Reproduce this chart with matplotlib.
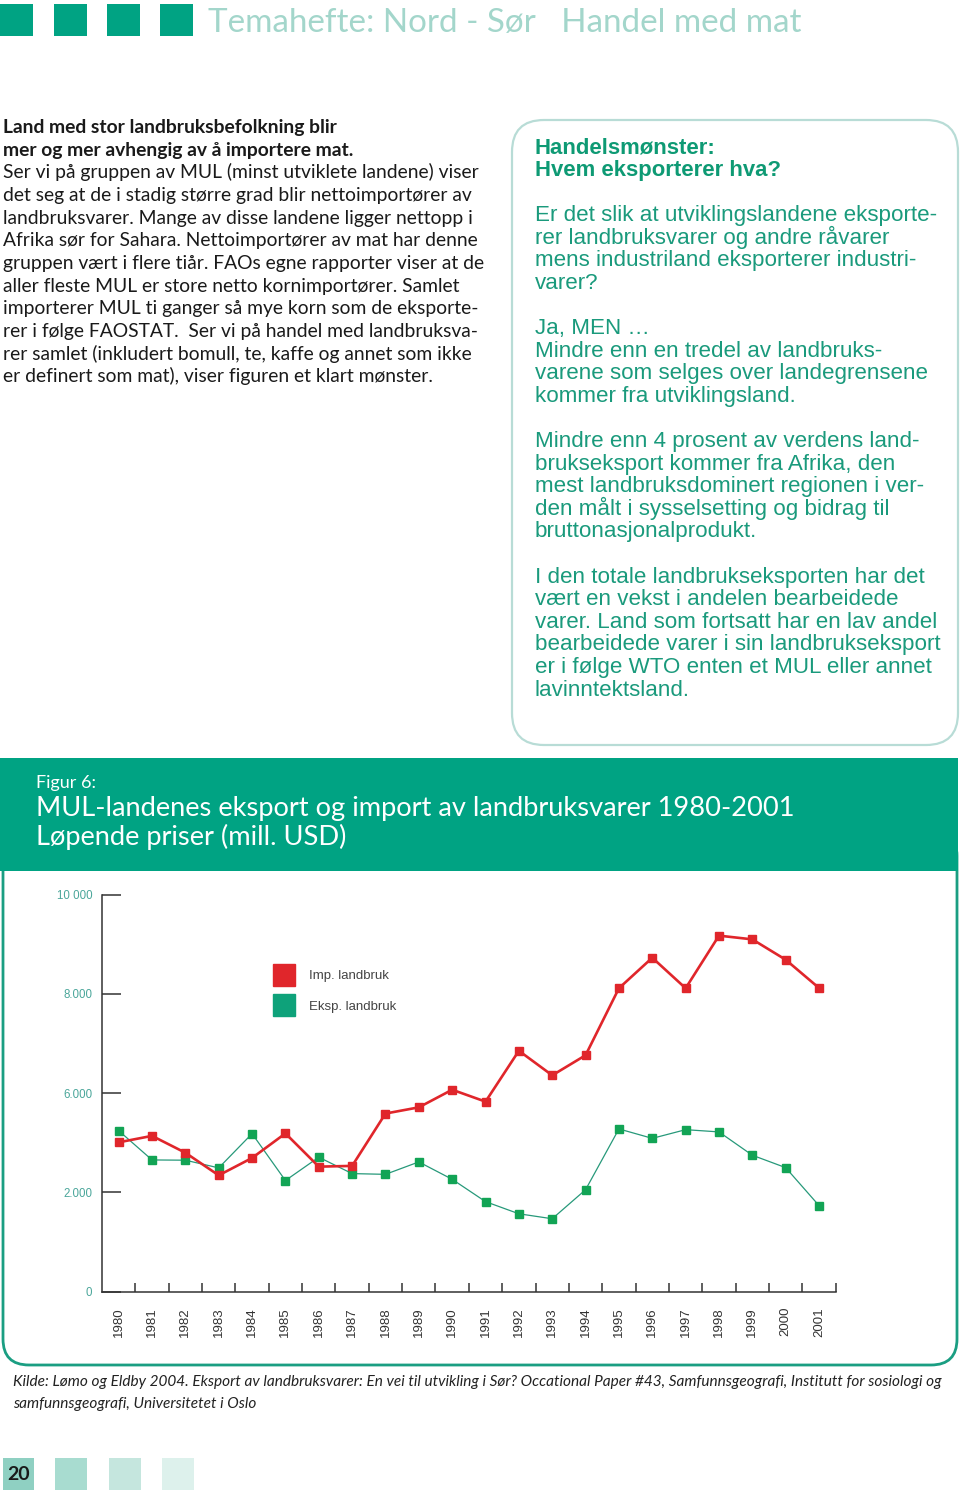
import matplotlib
matplotlib.use("Agg")
import matplotlib.pyplot as plt
from matplotlib.patches import Rectangle, FancyBboxPatch
from matplotlib.lines import Line2D

# ---------------- data ----------------
years = list(range(1980, 2002))
imp_landbruk = [3010, 3140, 2800, 2345, 2695, 3190, 2520, 2535, 3590, 3715, 4070,
                3830, 4855, 4360, 4765, 6115, 6730, 6115, 7175, 7100, 6690, 6120]
eksp_landbruk = [3245, 2655, 2650, 2495, 3185, 2240, 2710, 2380, 2365, 2615, 2265,
                 1815, 1570, 1470, 2055, 3280, 3090, 3265, 3220, 2750, 2500, 1735]
series_labels = ["Imp. landbruk", "Eksp. landbruk"]
ytick_pos = [0, 2000, 4000, 6000, 8000]
ytick_labels = ["0", "2.000", "6.000", "8.000", "10 000"]

header_text = "Temahefte: Nord - Sør   Handel med mat"
left_lines_bold = ["Land med stor landbruksbefolkning blir",
                   "mer og mer avhengig av å importere mat."]
left_lines = ["Ser vi på gruppen av MUL (minst utviklete landene) viser",
              "det seg at de i stadig større grad blir nettoimportører av",
              "landbruksvarer. Mange av disse landene ligger nettopp i",
              "Afrika sør for Sahara. Nettoimportører av mat har denne",
              "gruppen vært i flere tiår. FAOs egne rapporter viser at de",
              "aller fleste MUL er store netto kornimportører. Samlet",
              "importerer MUL ti ganger så mye korn som de eksporte-",
              "rer i følge FAOSTAT.  Ser vi på handel med landbruksva-",
              "rer samlet (inkludert bomull, te, kaffe og annet som ikke",
              "er definert som mat), viser figuren et klart mønster."]
box_head = ["Handelsmønster:", "Hvem eksporterer hva?"]
box_lines = ["Er det slik at utviklingslandene eksporte-",
             "rer landbruksvarer og andre råvarer",
             "mens industriland eksporterer industri-",
             "varer?",
             "",
             "Ja, MEN …",
             "Mindre enn en tredel av landbruks-",
             "varene som selges over landegrensene",
             "kommer fra utviklingsland.",
             "",
             "Mindre enn 4 prosent av verdens land-",
             "brukseksport kommer fra Afrika, den",
             "mest landbruksdominert regionen i ver-",
             "den målt i sysselsetting og bidrag til",
             "bruttonasjonalprodukt.",
             "",
             "I den totale landbrukseksporten har det",
             "vært en vekst i andelen bearbeidede",
             "varer. Land som fortsatt har en lav andel",
             "bearbeidede varer i sin landbrukseksport",
             "er i følge WTO enten et MUL eller annet",
             "lavinntektsland."]
fig_label = "Figur 6:"
fig_title = ["MUL-landenes eksport og import av landbruksvarer 1980-2001",
             "Løpende priser (mill. USD)"]
source_lines = ["Kilde: Lømo og Eldby 2004. Eksport av landbruksvarer: En vei til utvikling i Sør? "
                "Occational Paper #43, Samfunnsgeografi, Institutt for sosiologi og",
                "samfunnsgeografi, Universitetet i Oslo"]
page_no = "20"

# ---------------- styles ----------------
TEAL = "#00a383"
LIGHT_TEAL_TXT = "#a3d6cb"
BOX_TXT = "#1a9a7c"
RED = "#e0262b"
GREEN_LINE = "#27997a"
GREEN_MK = "#12a455"

W, H = 960, 1494
fig = plt.figure(figsize=(W / 100, H / 100), dpi=100)
bg = fig.add_axes([0, 0, 1, 1])
bg.set_xlim(0, W)
bg.set_ylim(H, 0)
bg.axis("off")
renderer = fig.canvas.get_renderer()


def fit_size(s, target, **kw):
    t = bg.text(0, 0, s, fontsize=10, **kw)
    w = t.get_window_extent(renderer).width
    t.remove()
    return 10 * target / w


# ---------------- header ----------------
for x0 in [0, 54, 107, 160]:
    bg.add_patch(Rectangle((x0, 4), 33, 32, color=TEAL, lw=0))
hk = dict(family="Lato")
hs = fit_size(header_text, 594, **hk)
bg.text(208, 32, header_text, fontsize=hs, color=LIGHT_TEAL_TXT, va="baseline", **hk)

# ---------------- left column ----------------
lk = dict(family="Lato")
ls_ = fit_size(left_lines[0], 475, **lk)
for i, s in enumerate(left_lines_bold):
    bg.text(3, 133 + 22.67 * i, s, fontsize=ls_, color="#1a1a1a",
            fontweight="bold", va="baseline", **lk)
for i, s in enumerate(left_lines):
    bg.text(3, 133 + 22.67 * (i + 2), s, fontsize=ls_, color="#1a1a1a",
            va="baseline", **lk)

# ---------------- right box ----------------
bg.add_patch(FancyBboxPatch((512, 120), 446, 625,
                            boxstyle="round,pad=0,rounding_size=32",
                            fc="white", ec="#b8dcd6", lw=1.6))
rk = dict(family="Liberation Sans")
hsz = fit_size(box_head[1], 247, fontweight="bold", **rk)
for i, s in enumerate(box_head):
    bg.text(535, 153 + 22.6 * i, s, fontsize=hsz, color="#0e9a74",
            fontweight="bold", va="baseline", **rk)
bsz = fit_size(box_lines[19], 405, **rk)
for i, s in enumerate(box_lines):
    if s:
        bg.text(535, 221 + 22.6 * i, s, fontsize=bsz, color=BOX_TXT,
                va="baseline", **rk)

# ---------------- figure banner ----------------
bg.add_patch(Rectangle((0, 758), 958, 113, color=TEAL, lw=0))
bk = dict(family="Lato")
fsz = fit_size(fig_label, 60, **bk)
bg.text(36, 788, fig_label, fontsize=fsz, color="white", va="baseline", **bk)
tsz = fit_size(fig_title[0], 760, **bk)
for i, s in enumerate(fig_title):
    bg.text(36, 816 + 28.5 * i, s, fontsize=tsz, color="white", va="baseline", **bk)

# chart frame (open at top, rounded at bottom)
frame = FancyBboxPatch((3, 830), 954, 535,
                       boxstyle="round,pad=0,rounding_size=26",
                       fc="none", ec="#1a9e82", lw=2.0, zorder=0.5)
bg.add_patch(frame)
bg.add_patch(Rectangle((4.5, 760), 951, 110, color=TEAL, lw=0, zorder=1))

# ---------------- source ----------------
sk = dict(family="Lato", style="italic")
ssz = fit_size(source_lines[0], 929, **sk)
for i, s in enumerate(source_lines):
    bg.text(13, 1386 + 22 * i, s, fontsize=ssz, color="#222222", va="baseline", **sk)

# ---------------- footer ----------------
bg.add_patch(Rectangle((3, 1458), 31, 32, color="#8fd0c2", lw=0))
bg.text(18.5, 1475, page_no, fontsize=14, fontweight="bold", color="#1a1a1a",
        ha="center", va="center", family="Lato")
for x0, c in [(55, "#a8dcd0"), (109, "#c5e6de"), (162, "#ddf1ec")]:
    bg.add_patch(Rectangle((x0, 1458), 32, 32, color=c, lw=0))

# ---------------- chart ----------------
x0p, x1p = 102, 835.7
y0p, y1p = 1291.7, 894.7
ax = fig.add_axes([x0p / W, 1 - y0p / H, (x1p - x0p) / W, (y0p - y1p) / H])
ax.patch.set_alpha(0)
ax.set_xlim(1979.5, 2001.5)
ax.set_ylim(0, 8000)
for sp in ["top", "right"]:
    ax.spines[sp].set_visible(False)
for sp in ["left", "bottom"]:
    ax.spines[sp].set_color("#333333")
    ax.spines[sp].set_linewidth(1.1)

ax.plot(years, imp_landbruk, color=RED, lw=1.9, marker="s", ms=6,
        mfc=RED, mec=RED, clip_on=False, zorder=3)
ax.plot(years, eksp_landbruk, color=GREEN_LINE, lw=0.9, marker="s", ms=6,
        mfc=GREEN_MK, mec=GREEN_MK, clip_on=False, zorder=2)

ax.set_yticks(ytick_pos)
ax.set_yticklabels(ytick_labels)
ax.tick_params(axis="y", direction="in", length=13.5, width=1.1, color="#333333",
               labelcolor="#4aa69a", labelsize=8.3, pad=7)
for lab in ax.get_yticklabels():
    lab.set_family("Liberation Sans")

ax.set_xticks(years)
ax.set_xticklabels([str(y) for y in years], rotation=90, family="Liberation Sans")
ax.set_xticks([y + 0.5 for y in years], minor=True)
ax.tick_params(axis="x", which="major", length=0, pad=11, labelsize=9.5,
               labelcolor="#333333")
ax.tick_params(axis="x", which="minor", direction="in", length=6.5, width=1.1,
               color="#333333")

handles = [Line2D([], [], marker="s", ls="none", ms=16, color=RED),
           Line2D([], [], marker="s", ls="none", ms=16, color="#0ea27a")]
leg = ax.legend(handles, series_labels, loc="upper left",
                bbox_to_anchor=(273 / W, 1 - 970 / H), bbox_transform=fig.transFigure,
                frameon=False, borderpad=0, borderaxespad=0,
                handlelength=1.67, handletextpad=1.05, labelspacing=1.4,
                prop={"family": "Liberation Sans", "size": 9.5})
for t in leg.get_texts():
    t.set_color("#444444")

fig.savefig("out.png", dpi=100)
